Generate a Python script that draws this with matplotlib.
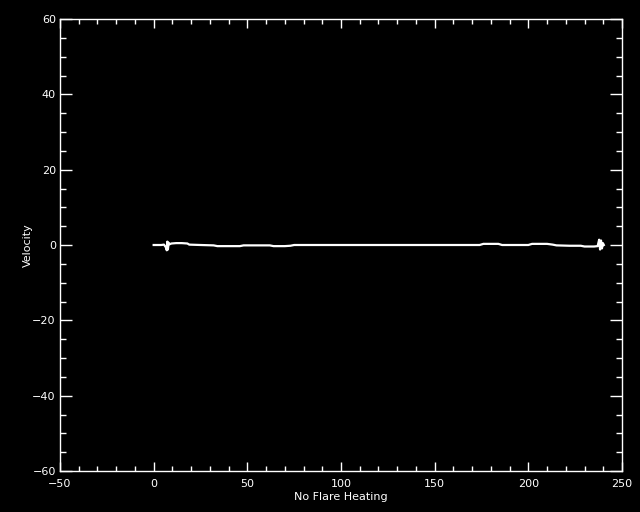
import matplotlib
matplotlib.use('Agg')
import matplotlib.pyplot as plt
from matplotlib.ticker import MultipleLocator

# velocity profile
pos = [0, 4, 5.5, 6.5, 7.0, 7.3, 7.6, 8.0, 8.5, 9.5, 12, 15, 18, 19, 25, 32, 34,
       40, 46, 48, 62, 64, 70, 73, 75, 100, 130, 160, 174, 176, 184, 186, 200,
       202, 210, 213, 215, 222, 228, 230, 235, 237, 237.8, 238.3, 238.8, 239.3,
       239.8, 240.3]
vel = [0.0, 0.0, 0.1, -0.6, -1.4, 0.9, -1.2, 0.6, 0.2, 0.4, 0.5, 0.5, 0.4, 0.1,
       0.0, -0.1, -0.3, -0.3, -0.3, -0.1, -0.1, -0.3, -0.3, -0.2, 0.0, 0.0, 0.0,
       0.0, 0.0, 0.3, 0.3, 0.0, 0.0, 0.3, 0.3, 0.1, -0.1, -0.2, -0.2, -0.4,
       -0.4, -0.3, 1.4, -1.2, 1.2, -0.9, 0.5, 0.0]

x_range = (-50, 250)
y_range = (-60, 60)
x_label = 'No Flare Heating'
y_label = 'Velocity'


def main():
    plt.rcParams['font.family'] = 'DejaVu Sans'
    fig = plt.figure(figsize=(6.4, 5.12), dpi=100, facecolor='black')
    ax = fig.add_axes([60 / 640, 41 / 512, 562 / 640, 452 / 512], facecolor='black')

    ax.plot(pos, vel, color='white', linewidth=1.6)

    ax.set_xlim(*x_range)
    ax.set_ylim(*y_range)
    ax.xaxis.set_major_locator(MultipleLocator(50))
    ax.xaxis.set_minor_locator(MultipleLocator(10))
    ax.yaxis.set_major_locator(MultipleLocator(20))
    ax.yaxis.set_minor_locator(MultipleLocator(5))

    for spine in ax.spines.values():
        spine.set_color('white')
        spine.set_linewidth(1.0)

    ax.tick_params(axis='both', which='both', direction='in', colors='white',
                   top=True, right=True, labelsize=8, width=1.0)
    ax.tick_params(axis='x', which='major', length=6.5, pad=6)
    ax.tick_params(axis='x', which='minor', length=3.5)
    ax.tick_params(axis='y', which='major', length=8.5, pad=3)
    ax.tick_params(axis='y', which='minor', length=4.5)

    ax.set_xlabel(x_label, color='white', fontsize=8, labelpad=2)
    ax.set_ylabel(y_label, color='white', fontsize=8)
    ax.yaxis.set_label_coords(-27 / 562, 0.5)

    fig.savefig('out.png', dpi=100, facecolor='black')
    return


if __name__ == '__main__':
    main()
